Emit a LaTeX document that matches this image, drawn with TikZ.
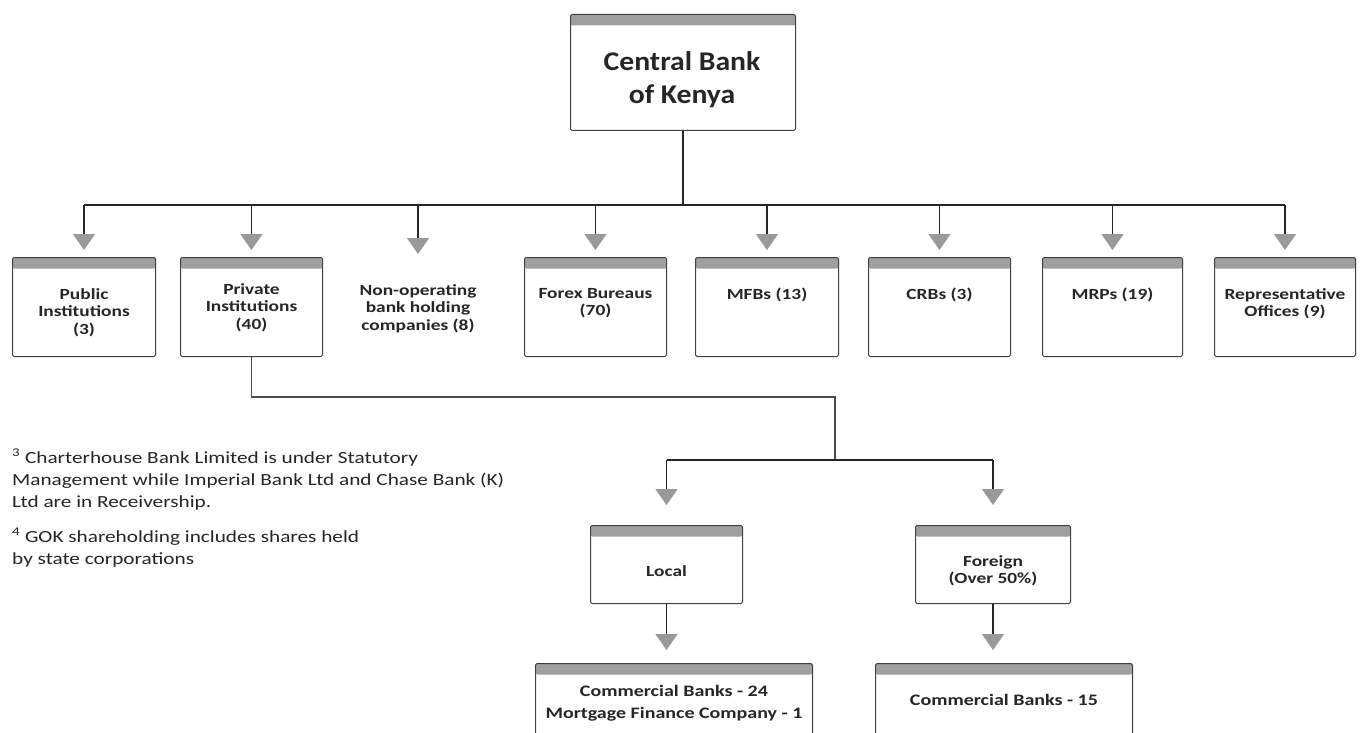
\documentclass[tikz,border=0pt]{standalone}
\usepackage{fontspec}
\setmainfont{Carlito}
\newfontfamily\widefont[FakeStretch=1.25]{Carlito}
\newfontfamily\titlefont[FakeStretch=1.1]{Carlito}
\usetikzlibrary{arrows.meta}
\begin{document}
\begin{tikzpicture}[x=1pt,y=-1pt,
 box/.style={draw=black!75, line width=1pt, fill=white, rounded corners=1.5pt, inner sep=0pt,
   path picture={\fill[gray!75] (path picture bounding box.north west) rectangle ([yshift=-11pt]path picture bounding box.north east);}},
 lbl/.style={font=\widefont\bfseries\fontsize{15.5}{17.5}\selectfont, align=center, anchor=north, inner sep=0pt, text=black!85},
 big/.style={font=\widefont\bfseries\fontsize{16}{22}\selectfont},
 note/.style={font=\widefont\fontsize{17}{22}\selectfont, align=left, anchor=north west, inner sep=0pt, text=black!85},
 link/.style={draw=black!85, line width=1.3pt},
 arr/.style={link, -{Triangle[width=22pt,length=16pt,color=gray!80,fill=gray!80]}},
]
\useasboundingbox[fill=white] (0,0) rectangle (1363,733);

% top
\node[box, minimum width=225pt, minimum height=116pt, anchor=north west] (cbk) at (570,14) {};
\node[lbl, font=\titlefont\bfseries\fontsize{27}{33}\selectfont] (cbkT) at (682,51) {Central Bank\\of Kenya};

% row boxes
\node[box, minimum width=143pt, minimum height=99pt, anchor=north west] (pub) at (12,257) {};
\node[box, minimum width=142pt, minimum height=99pt, anchor=north west] (priv) at (180,257) {};
\node[box, minimum width=142pt, minimum height=99pt, anchor=north west] (forex) at (524,257) {};
\node[box, minimum width=143pt, minimum height=99pt, anchor=north west] (mfb) at (695,257) {};
\node[box, minimum width=142pt, minimum height=99pt, anchor=north west] (crb) at (868,257) {};
\node[box, minimum width=140pt, minimum height=99pt, anchor=north west] (mrp) at (1042,257) {};
\node[box, minimum width=141pt, minimum height=99pt, anchor=north west] (rep) at (1214,257) {};

\node[lbl] (pubT) at (pub.north |- 0,288) {Public\\Institutions\\(3)};
\node[lbl] (privT) at (priv.north |- 0,283) {Private\\Institutions\\(40)};
\node[lbl] (nonop) at (418,284) {Non-operating\\bank holding\\companies (8)};
\node[lbl] (forexT) at (forex.north |- 0,288) {Forex Bureaus\\(70)};
\node[lbl] (mfbT) at (mfb.north |- 0,288) {MFBs (13)};
\node[lbl] (crbT) at (crb.north |- 0,288) {CRBs (3)};
\node[lbl] (mrpT) at (mrp.north |- 0,288) {MRPs (19)};
\node[lbl] (repT) at (rep.north |- 0,288) {Representative\\Offices (9)};

% bus
\coordinate (bus) at (0,205);
\draw[link] (cbk.south) -- (cbk.south |- bus);
\draw[link] (pub.north |- bus) -- (rep.north |- bus);
\foreach \n in {pub,priv,forex,mfb,crb,mrp,rep}
  \draw[arr] (\n.north |- bus) -- ([yshift=7pt]\n.north);
\draw[arr] (nonop.north |- bus) -- ([yshift=30pt]nonop.north);

% second level
\node[box, minimum width=152pt, minimum height=78pt, anchor=north west] (loc) at (590,525) {};
\node[box, minimum width=155pt, minimum height=78pt, anchor=north west] (for) at (915,525) {};
\node[lbl] (locT) at (loc.north |- 0,565) {Local};
\node[lbl] (forT) at (for.north |- 0,555) {Foreign\\(Over 50\%)};

\coordinate (mid) at (835,397);
\coordinate (split) at (835,460);
\draw[link, draw=black!70, line width=1.1pt] (priv.south) -- (priv.south |- mid) -- (mid) -- (split);
\draw[link] (loc.north |- split) -- (for.north |- split);
\draw[arr] (loc.north |- split) -- ([yshift=20pt]loc.north);
\draw[arr] (for.north |- split) -- ([yshift=20pt]for.north);

% bottom boxes
\node[box, minimum width=277pt, minimum height=90pt, anchor=north west] (cb1) at (535,663) {};
\node[box, minimum width=257pt, minimum height=90pt, anchor=north west] (cb2) at (875,663) {};
\node[lbl, big] (cb1T) at (cb1.north |- 0,685) {Commercial Banks - 24\\Mortgage Finance Company - 1};
\node[lbl, big] (cb2T) at (cb2.north |- 0,694) {Commercial Banks - 15};

\draw[arr] (loc.south) -- ([yshift=13pt]loc.south |- cb1.north);
\draw[arr] (for.south) -- ([yshift=13pt]for.south |- cb2.north);

% notes
\node[note] (n1) at (12,449) {\textsuperscript{3} Charterhouse Bank Limited is under Statutory\\Management while Imperial Bank Ltd and Chase Bank (K)\\Ltd are in Receivership.};
\node[note] (n2) at (12,528) {\textsuperscript{4} GOK shareholding includes shares held\\by state corporations};
\end{tikzpicture}
\end{document}
